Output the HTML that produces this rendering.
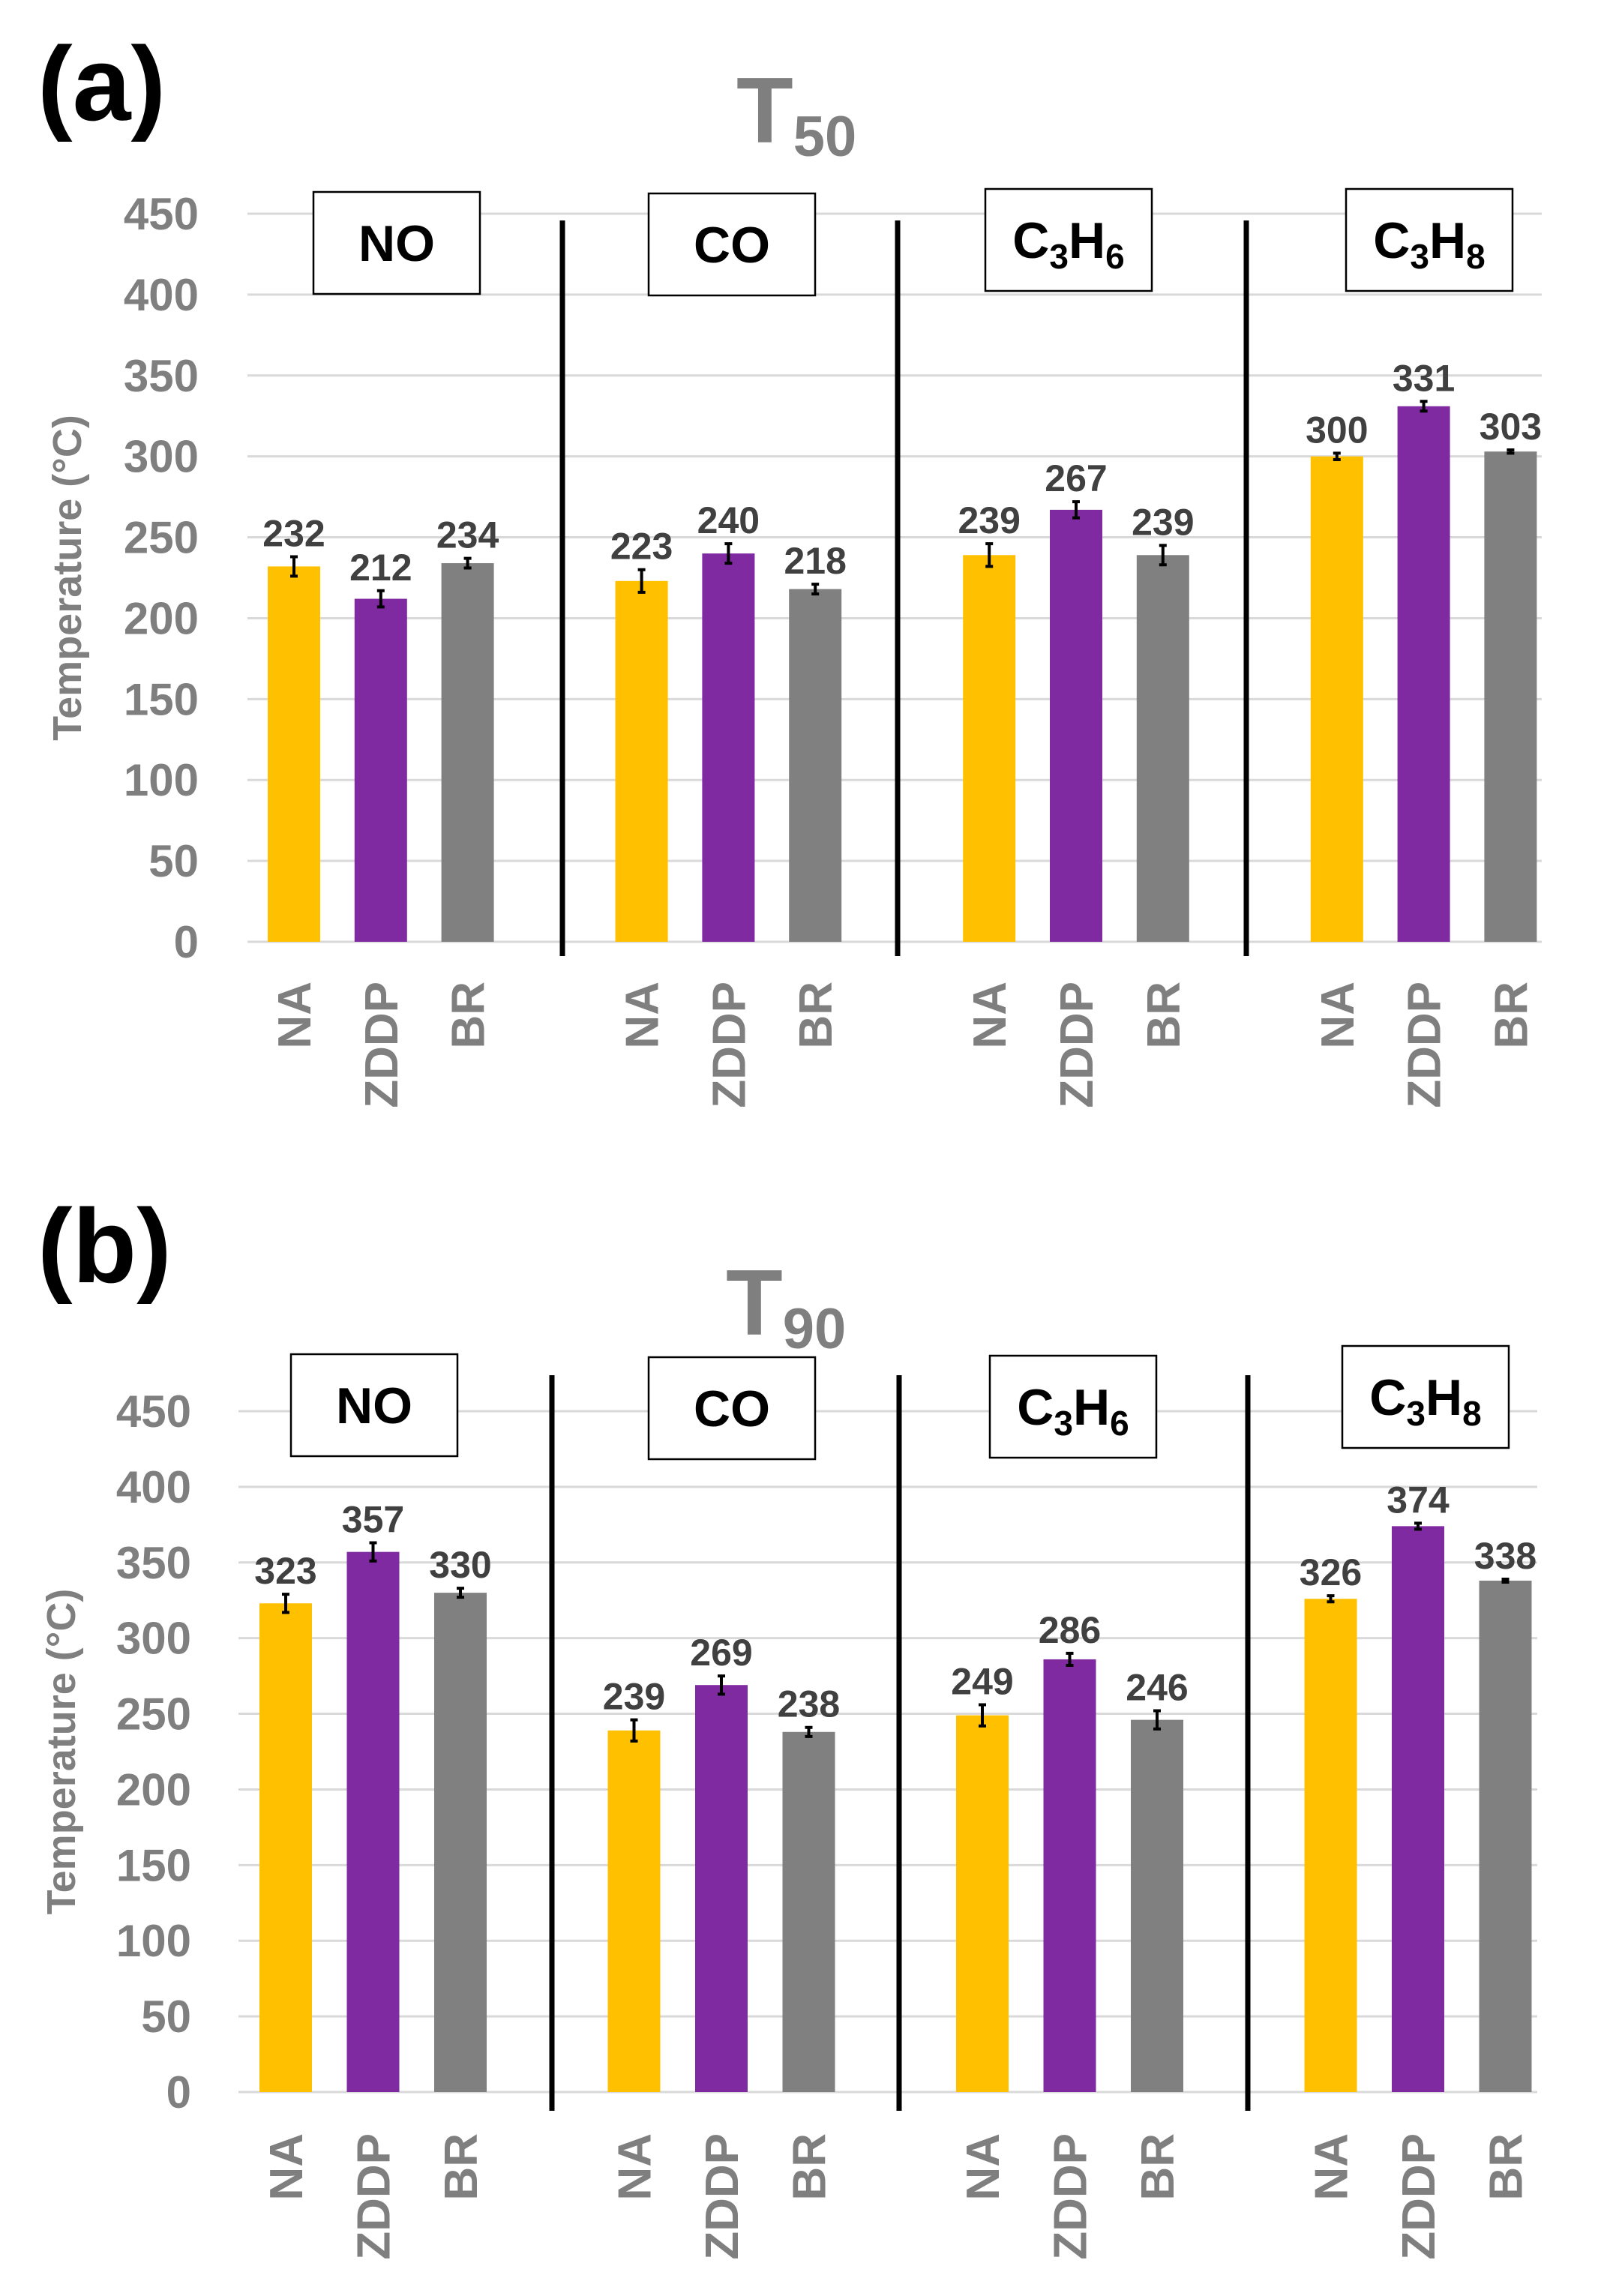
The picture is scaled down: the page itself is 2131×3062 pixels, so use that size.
<!DOCTYPE html>
<html><head><meta charset="utf-8"><style>
html,body{margin:0;padding:0;background:#fff;}
svg{display:block;}
text{font-family:"Liberation Sans Narrow","Liberation Sans",sans-serif;}
</style></head><body>
<svg id="fig" width="2131" height="3062" viewBox="0 0 2131 3062" xmlns="http://www.w3.org/2000/svg"></svg>
<script>
const gases = ["NO","CO","C3H6","C3H8"];
const catalysts = ["NA","ZDDP","BR"];
const colors = ["#ffc000","#7f2aa0","#808080"];
const yTicks = [0,50,100,150,200,250,300,350,400,450];
const t50Values = [232,212,234, 223,240,218, 239,267,239, 300,331,303];
const t50Errors = [6,5,3, 7,6,3, 7,5,6, 2,3,1];
const t90Values = [323,357,330, 239,269,238, 249,286,246, 326,374,338];
const t90Errors = [6,6,3, 7,6,3, 7,4,6, 2,2,1];

const NS="http://www.w3.org/2000/svg";
const svg=document.getElementById('fig');
function el(tag,attrs,parent,text){
  const e=document.createElementNS(NS,tag);
  for(const k in attrs)e.setAttribute(k,attrs[k]);
  if(text!==undefined)e.textContent=text;
  (parent||svg).appendChild(e);return e;
}
function gasLabel(parent,g,cx,cy,name){
  const t=el('text',{x:cx,y:cy,'text-anchor':'middle','font-size':68,'font-weight':'bold',fill:'#000'},parent);
  
  
  const m=g.match(/^C(\d)H(\d)$/);
  if(m){
    el('tspan',{},t,'C');el('tspan',{'font-size':46,dy:14},t,m[1]);
    el('tspan',{dy:-14},t,'H');el('tspan',{'font-size':46,dy:14},t,m[2]);
  } else t.textContent=g;
}
function drawChart(c,values,errors){
  const g=el('g',{});
  
  
  const y=v=>c.y0-(v/450)*(c.y0-c.y450);
  const barX=(gi,ci)=>c.x0+c.gstep*gi+c.step*ci;
  const p=el('text',{x:c.letterX,y:c.letterY,'font-size':140,'font-weight':'bold',fill:'#000','font-family':'Liberation Sans'},g,c.letter);
  
  const t=el('text',{x:c.titleX,y:c.titleY,'font-size':124,'font-weight':'bold',fill:'#7f7f7f'},g);
  
  el('tspan',{},t,'T');el('tspan',{'font-size':76,dy:18},t,c.sub);
  yTicks.forEach(v=>{
    const l=el('line',{x1:c.gx1,x2:c.gx2,y1:y(v),y2:y(v),stroke:'#d9d9d9','stroke-width':3},g);
    
    const tx=el('text',{x:c.tickX,y:y(v)+21,'text-anchor':'end','font-size':60,'font-weight':'bold',fill:'#7f7f7f'},g,String(v));
    
  });
  const yt=el('text',{x:0,y:0,'text-anchor':'middle','font-size':54,'font-weight':'bold',fill:'#7f7f7f',transform:`translate(${c.ytX},${(c.y0+c.y450)/2}) rotate(-90)`},g,'Temperature (°C)');
  
  values.forEach((v,i)=>{
    const gi=Math.floor(i/3), ci=i%3;
    const cx=barX(gi,ci);
    const b=el('rect',{x:cx-c.bw/2,y:y(v),width:c.bw,height:c.y0-y(v),fill:colors[ci]},g);
    
    
    const e=errors[i];
    const eb=el('path',{d:`M${cx},${y(v+e)}V${y(v-e)}M${cx-5},${y(v+e)}H${cx+5}M${cx-5},${y(v-e)}H${cx+5}`,stroke:'#000','stroke-width':4,fill:'none'},g);
    
    const vl=el('text',{x:cx,y:y(v+e)-14,'text-anchor':'middle','font-size':50,'font-weight':'bold',fill:'#404040'},g,String(v));
    
    const xl=el('text',{x:0,y:0,'text-anchor':'end','font-size':62,'font-weight':'bold',fill:'#7f7f7f','font-family':'Liberation Sans',transform:`translate(${cx+22},${c.xlabY}) rotate(-90)`},g,catalysts[ci]);
    
  });
  c.divs.forEach(dx=>{
    const d=el('line',{x1:dx,x2:dx,y1:c.divY1,y2:c.divY2,stroke:'#000','stroke-width':7},g);
    
  });
  c.boxes.forEach((bx,i)=>{
    const r=el('rect',{x:bx[0],y:bx[1],width:222,height:136,fill:'#fff',stroke:'#000','stroke-width':2.5},g);
    
    gasLabel(g,gases[i],bx[0]+111,bx[1]+92,'gas-label-'+gases[i].toLowerCase());
  });
}
drawChart({name:'chart-t50',letter:'(a)',letterX:50,letterY:160,sub:'50',titleX:982,titleY:190,
  y0:1256,y450:285,x0:392,step:115.8,gstep:463.6,bw:70,gx1:330,gx2:2056,tickX:265,ytX:108,xlabY:1309,
  divs:[750,1197,1662],divY1:294,divY2:1275,
  boxes:[[418,256],[865,258],[1314,252],[1795,252]]},t50Values,t50Errors);
drawChart({name:'chart-t90',letter:'(b)',letterX:50,letterY:1710,sub:'90',titleX:968,titleY:1780,
  y0:2790,y450:1882,x0:381,step:116.5,gstep:464.5,bw:70,gx1:318,gx2:2050,tickX:255,ytX:100,xlabY:2845,
  divs:[736,1199,1664],divY1:1834,divY2:2815,
  boxes:[[388,1806],[865,1810],[1320,1808],[1790,1795]]},t90Values,t90Errors);
</script>
</body></html>
